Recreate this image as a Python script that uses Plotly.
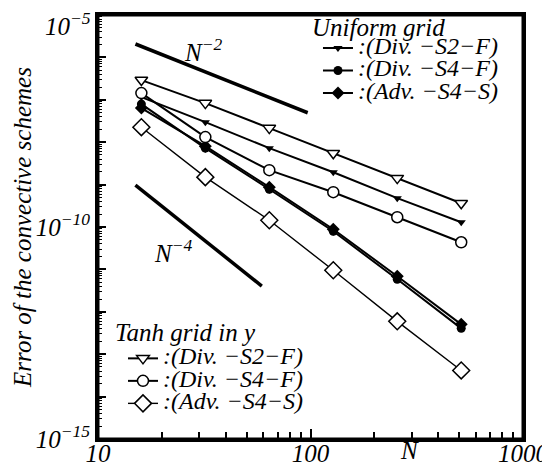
import plotly.graph_objects as go

# ---- data ----
N = [16, 32, 64, 128, 256, 512]

uni_div_s2_f = [1.16e-7, 2.97e-8, 7.24e-9, 1.96e-9, 4.78e-10, 1.29e-10]
uni_div_s4_f = [7.91e-8, 7.24e-9, 7.78e-10, 7.94e-11, 5.84e-12, 4.07e-13]
uni_adv_s4_s = [6.37e-8, 8.07e-9, 8.69e-10, 8.85e-11, 6.87e-12, 5.06e-13]

tanh_div_s2_f = [2.92e-7, 8.36e-8, 2.15e-8, 5.51e-9, 1.42e-9, 3.64e-10]
tanh_div_s4_f = [1.44e-7, 1.32e-8, 2.19e-9, 6.62e-10, 1.70e-10, 4.36e-11]
tanh_adv_s4_s = [2.26e-8, 1.50e-9, 1.44e-10, 9.53e-12, 5.96e-13, 4.14e-14]

ref2_N = [15, 97]
ref2_err = [2.07e-6, 4.95e-8]
ref4_N = [15, 59]
ref4_err = [9.68e-10, 4.04e-12]

series_names = [":(Div. \u2212S2\u2212F)", ":(Div. \u2212S4\u2212F)", ":(Adv. \u2212S4\u2212S)"]
group_titles = ["Uniform grid", "Tanh grid in y"]
x_title = "N"
y_title = "Error of the convective schemes"

x_major = [10, 100, 1000]
x_major_text = ["10", "100", "1000"]
x_minor = [k * 10 ** d for d in (1, 2) for k in range(2, 10)]
y_decades = list(range(-15, -4))
y_major = [10.0 ** e for e in y_decades]
y_label_exp = {-15: "\u221215", -10: "\u221210", -5: "\u22125"}
y_top_label = "10<sup>%s</sup>" % y_label_exp[-5]
y_major_text = [("10<sup>%s</sup>" % y_label_exp[e]) if (e in y_label_exp and e != -5) else ""
                for e in y_decades]
y_minor = [k * 10.0 ** d for d in range(-15, -5) for k in range(2, 10)]

FONT = "Liberation Serif"
BIG = 25
LEG = 24


def lname(s):
    return '<span style="font-size:%dpx">%s</span>' % (LEG, s)


fig = go.Figure()

# reference slopes
fig.add_trace(go.Scatter(x=ref2_N, y=ref2_err, mode="lines",
                         line=dict(color="black", width=3.5), showlegend=False, hoverinfo="skip"))
fig.add_trace(go.Scatter(x=ref4_N, y=ref4_err, mode="lines",
                         line=dict(color="black", width=3.5), showlegend=False, hoverinfo="skip"))

# Uniform grid
fig.add_trace(go.Scatter(x=N, y=uni_div_s2_f, mode="lines+markers", name=lname(series_names[0]),
                         line=dict(color="black", width=2),
                         marker=dict(symbol="triangle-down", size=8, color="black"),
                         legend="legend"))
fig.add_trace(go.Scatter(x=N, y=uni_div_s4_f, mode="lines+markers", name=lname(series_names[1]),
                         line=dict(color="black", width=2),
                         marker=dict(symbol="circle", size=9, color="black"),
                         legend="legend"))
fig.add_trace(go.Scatter(x=N, y=uni_adv_s4_s, mode="lines+markers", name=lname(series_names[2]),
                         line=dict(color="black", width=2),
                         marker=dict(symbol="diamond", size=10, color="black"),
                         legend="legend"))

# Tanh grid
fig.add_trace(go.Scatter(x=N, y=tanh_div_s2_f, mode="lines+markers", name=lname(series_names[0]),
                         line=dict(color="black", width=2),
                         marker=dict(symbol="triangle-down", size=11, color="white",
                                     line=dict(color="black", width=1.5)),
                         legend="legend2"))
fig.add_trace(go.Scatter(x=N, y=tanh_div_s4_f, mode="lines+markers", name=lname(series_names[1]),
                         line=dict(color="black", width=2),
                         marker=dict(symbol="circle", size=11, color="white",
                                     line=dict(color="black", width=1.5)),
                         legend="legend2"))
fig.add_trace(go.Scatter(x=N, y=tanh_adv_s4_s, mode="lines+markers", name=lname(series_names[2]),
                         line=dict(color="black", width=1.4),
                         marker=dict(symbol="diamond", size=13, color="white",
                                     line=dict(color="black", width=1.5)),
                         legend="legend2"))

legfont = dict(family=FONT, size=15, color="black", style="italic")
tickfont = dict(family=FONT, size=25, color="black", style="italic")
textfont = dict(family=FONT, size=BIG, color="black", style="italic")

# page body has an 8px margin: figure is 542x466 and margins compensate
fig.update_layout(
    width=542, height=466,
    margin=dict(l=90, r=27, t=7, b=35, autoexpand=False),
    paper_bgcolor="white", plot_bgcolor="white",
    font=textfont,
    legend=dict(x=0.5176, y=0.9604, xanchor="left", yanchor="top",
                bgcolor="rgba(0,0,0,0)", font=legfont, tracegroupgap=0),
    legend2=dict(x=0.0588, y=0.2285, xanchor="left", yanchor="top",
                 bgcolor="rgba(0,0,0,0)", font=legfont, tracegroupgap=0),
    xaxis=dict(type="log", range=[1, 3], showgrid=False, zeroline=False, automargin=False,
               showline=True, linecolor="#000000", linewidth=3, mirror=True,
               layer="above traces",
               ticklabeloverflow="allow", ticklabelstandoff=-10,
               tickmode="array", tickvals=x_major, ticktext=x_major_text,
               ticks="inside", ticklen=10, tickwidth=1.5, tickcolor="#000000",
               tickfont=tickfont,
               minor=dict(tickmode="array", tickvals=x_minor, ticks="inside",
                          ticklen=7, tickwidth=1.5, tickcolor="#000000", showgrid=False)),
    yaxis=dict(type="log", range=[-15, -5], showgrid=False, zeroline=False, automargin=False,
               showline=True, linecolor="#000000", linewidth=3, mirror=True,
               layer="above traces",
               ticklabeloverflow="allow",
               tickmode="array", tickvals=y_major, ticktext=y_major_text,
               ticks="inside", ticklen=8, tickwidth=1.5, tickcolor="#000000",
               tickfont=tickfont,
               minor=dict(tickmode="array", tickvals=y_minor, ticks="inside",
                          ticklen=4, tickwidth=1, tickcolor="#000000", showgrid=False)),
    showlegend=True,
)

# plot frame
fig.add_shape(type="rect", xref="paper", yref="paper", x0=0, y0=0, x1=1, y1=1,
              line=dict(color="#000000", width=3), layer="above")

# top y tick label as annotation (keeps it inside the page)
fig.add_annotation(text=y_top_label, x=-0.012, y=1, xref="paper", yref="paper",
                   xanchor="right", yanchor="top", yshift=9, showarrow=False,
                   font=tickfont)

fig.add_annotation(text="N<sup>\u22122</sup>", x=1.494, y=-5.83, xref="x", yref="y",
                   showarrow=False, font=textfont)
fig.add_annotation(text="N<sup>\u22124</sup>", x=1.353, y=-10.57, xref="x", yref="y",
                   showarrow=False, font=textfont)
fig.add_annotation(text=group_titles[0], x=0.4988, y=0.970, xref="paper", yref="paper",
                   xanchor="left", yanchor="middle", showarrow=False, font=textfont)
fig.add_annotation(text=group_titles[1], x=0.0353, y=0.2515, xref="paper", yref="paper",
                   xanchor="left", yanchor="middle", showarrow=False, font=textfont)
fig.add_annotation(text=x_title, x=0.734, y=-0.027, xref="paper", yref="paper",
                   xanchor="center", yanchor="middle", showarrow=False, font=textfont)
fig.add_annotation(text=y_title, x=-0.179, y=0.5, xref="paper", yref="paper",
                   xanchor="center", yanchor="middle", textangle=-90, showarrow=False,
                   font=textfont)

fig.write_html("out.html")
